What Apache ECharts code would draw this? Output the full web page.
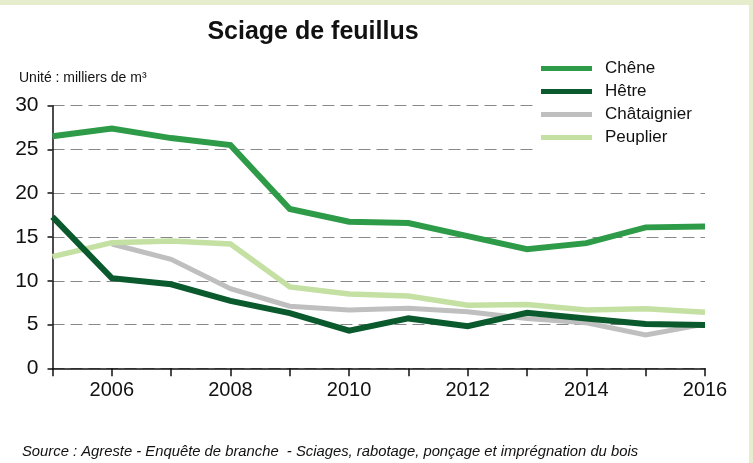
<!DOCTYPE html>
<html>
<head>
<meta charset="utf-8">
<script src="https://cdn.jsdelivr.net/npm/echarts@6/dist/echarts.min.js"></script>
<style>
    html, body { margin: 0; padding: 0; background: #e6edcc; }
    #chart { position: absolute; left: 0; top: 5px; width: 749px; height: 458px; background: #fff; }
</style>
</head>
<body>
<div id="chart"></div>
<script>
var years = [2005, 2006, 2007, 2008, 2009, 2010, 2011, 2012, 2013, 2014, 2015, 2016];
var chene = [26.5, 27.4, 26.3, 25.5, 18.2, 16.75, 16.6, 15.1, 13.6, 14.3, 16.1, 16.2];
var hetre = [17.3, 10.3, 9.6, 7.7, 6.3, 4.3, 5.7, 4.8, 6.35, 5.7, 5.05, 4.95];
var chataignier = [null, 14.2, 12.45, 9.1, 7.1, 6.65, 6.85, 6.45, 5.7, 5.2, 3.8, 5.05];
var peuplier = [12.75, 14.35, 14.55, 14.2, 9.3, 8.5, 8.25, 7.2, 7.3, 6.65, 6.8, 6.4];

var font = 'Liberation Sans, Arial, sans-serif';

//组装折线数据
function pairs(vals) {
    var out = [];
    for (var i = 0; i < years.length; i++) {
        out.push([years[i], vals[i]]);
    }
    return out;
}

function line(name, vals, color, width, z) {
    return {
        name: name,
        type: 'line',
        data: pairs(vals),
        showSymbol: false,
        symbol: 'none',
        z: z,
        lineStyle: { color: color, width: width, cap: 'butt', join: 'miter' },
        itemStyle: { color: color }
    };
}

var chart = echarts.init(document.getElementById('chart'));
chart.setOption({
    animation: false,
    title: [{
        text: 'Sciage de feuillus',
        left: 308,
        textAlign: 'center',
        top: 10,
        textStyle: { fontFamily: font, fontSize: 25, fontWeight: 'bold', color: '#111' }
    }, {
        text: 'Unité : milliers de m³',
        left: 19,
        top: 66,
        padding: 0,
        textStyle: { fontFamily: font, fontSize: 14, fontWeight: 'normal', color: '#111' }
    }, {
        text: 'Source : Agreste - Enquête de branche  - Sciages, rabotage, ponçage et imprégnation du bois',
        left: 22,
        top: 439,
        padding: 0,
        textStyle: { fontFamily: font, fontSize: 14.8, fontStyle: 'italic', fontWeight: 'normal', color: '#111' }
    }],
    legend: {
        orient: 'vertical',
        left: 533,
        top: 49,
        padding: [6, 40, 6, 8],
        backgroundColor: '#fff',
        icon: 'rect',
        itemWidth: 51,
        itemHeight: 5,
        itemGap: 6,
        z: 10,
        textStyle: { fontFamily: font, fontSize: 17, color: '#111', padding: [0, 0, 0, 8] },
        data: ['Chêne', 'Hêtre', 'Châtaignier', 'Peuplier']
    },
    grid: { left: 52.5, right: 44, top: 100.7, bottom: 94.7, containLabel: false },
    xAxis: {
        type: 'value',
        min: 2005,
        max: 2016,
        interval: 1,
        axisLine: { lineStyle: { color: '#111', width: 1.5 } },
        axisTick: { show: true, length: 8, inside: false, lineStyle: { color: '#111', width: 1.5 } },
        splitLine: { show: false },
        axisLabel: {
            fontFamily: font, fontSize: 20, color: '#111', margin: 12,
            formatter: function (v) { return v % 2 === 0 ? String(v) : ''; }
        }
    },
    yAxis: {
        type: 'value',
        min: 0,
        max: 30,
        interval: 5,
        axisLine: { show: true, lineStyle: { color: '#111', width: 1.5 } },
        axisTick: { show: true, length: 5, lineStyle: { color: '#111', width: 1.5 } },
        splitLine: { show: true, lineStyle: { color: '#888', width: 1, type: [12, 6] } },
        axisLabel: { fontFamily: font, fontSize: 21, color: '#111', margin: 14 }
    },
    series: [
        line('Châtaignier', chataignier, '#bfbfbf', 5, 2),
        line('Peuplier', peuplier, '#c5e0a3', 5.5, 3),
        line('Hêtre', hetre, '#0b5a2d', 6, 4),
        line('Chêne', chene, '#2e9b48', 6, 5)
    ]
});
</script>
</body>
</html>
